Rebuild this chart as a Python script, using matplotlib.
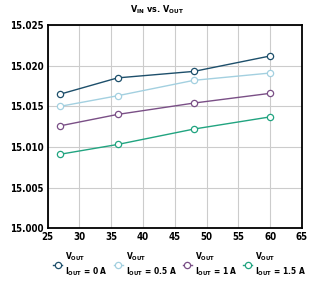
import matplotlib
matplotlib.use("Agg")
import matplotlib.pyplot as plt

vin = [27, 36, 48, 60]
vout_0a = [15.0165, 15.0185, 15.0193, 15.0212]
vout_05a = [15.0150, 15.0163, 15.0182, 15.0191]
vout_1a = [15.0126, 15.0140, 15.0154, 15.0166]
vout_15a = [15.0091, 15.0103, 15.0122, 15.0137]
currents = ["0 A", "0.5 A", "1 A", "1.5 A"]
colors = ["#1d4f6b", "#a3d0e0", "#7a4f86", "#21a480"]

plt.rcParams['font.family'] = ['DejaVu Sans']
plt.rcParams['font.stretch'] = 'condensed'
plt.rcParams['font.weight'] = 'bold'
plt.rcParams['mathtext.default'] = 'regular'

fig = plt.figure(figsize=(3.13, 2.82), dpi=100)
ax = fig.add_axes([0.152, 0.191, 0.813, 0.72])

series = [vout_0a, vout_05a, vout_1a, vout_15a]
for vals, cur, col in zip(series, currents, colors):
    ax.plot(vin, vals, color=col, lw=1.0, marker='o', ms=4.5,
            mfc='white', mec=col, mew=0.9,
            label="V$_{OUT}$\nI$_{OUT}$ = " + cur)

ax.set_xlim(25, 65)
ax.set_ylim(15.000, 15.025)
ax.set_xticks(range(25, 66, 5))
ax.set_yticks([15.000, 15.005, 15.010, 15.015, 15.020, 15.025])
ax.set_yticklabels(["15.000", "15.005", "15.010", "15.015", "15.020", "15.025"])
ax.tick_params(length=0, labelsize=7, pad=3)
ax.grid(True, color='#cccccc', lw=0.8)
ax.set_axisbelow(True)
for s in ax.spines.values():
    s.set_linewidth(1.3)
    s.set_color('black')

fig.text(0.5, 0.965, "V$_{IN}$ vs. V$_{OUT}$", ha='center', va='center', fontsize=6.5)

fig.legend(loc='upper center', bbox_to_anchor=(0.574, 0.11), ncol=4, frameon=False,
           fontsize=6, handlelength=1.1, handletextpad=0.35, columnspacing=0.7,
           borderaxespad=0, borderpad=0)

fig.savefig("out.png", dpi=100)
